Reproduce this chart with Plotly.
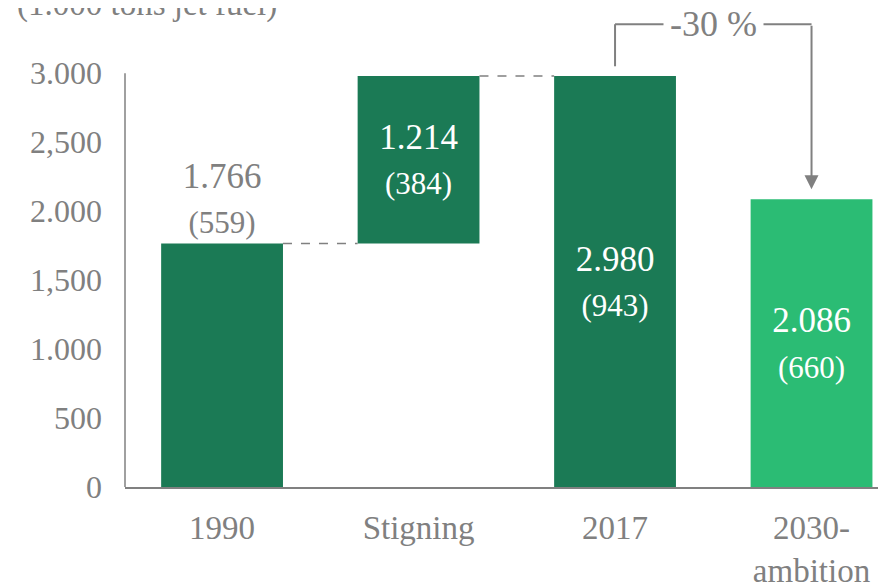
import plotly.graph_objects as go

# ---- data ----
categories = ["1990", "Stigning", "2017", "2030-<br>ambition"]
bar_values = [1766, 1214, 2980, 2086]
bar_bases = [0, 1766, 0, 0]
sub_values = [559, 384, 943, 660]
label_main = ["1.766", "1.214", "2.980", "2.086"]
label_sub = ["(559)", "(384)", "(943)", "(660)"]
y_tickvals = [0, 500, 1000, 1500, 2000, 2500, 3000]
y_ticktext = ["0", "500", "1.000", "1,500", "2.000", "2,500", "3.000"]
change_label = "-30 %"
unit_label = "(1.000 tons jet fuel)"

DARK = "#1b7a55"
LIGHT = "#2bbc74"
GRAY = "#808080"
FONT = "Liberation Serif"
colors = [DARK, DARK, DARK, LIGHT]
positions = ["outside", "inside", "inside", "inside"]
BAR_W = 0.62

texts = [f"{m}<br><span style='font-size:31px'>{s}</span>" for m, s in zip(label_main, label_sub)]

fig = go.Figure()
fig.add_trace(go.Bar(
    x=list(range(len(categories))), y=bar_values, base=bar_bases,
    marker=dict(color=colors, line=dict(width=0)),
    width=BAR_W,
    text=texts, textposition=positions, insidetextanchor="middle",
    insidetextfont=dict(family=FONT, size=35, color="white"),
    outsidetextfont=dict(family=FONT, size=35, color=GRAY),
    constraintext="none", cliponaxis=False, hoverinfo="skip",
))

shapes = []
# dashed connectors
for i in range(len(categories) - 2):
    top = bar_bases[i] + bar_values[i]
    shapes.append(dict(type="line", xref="x", yref="y",
                       x0=i + BAR_W / 2, x1=i + 1 - BAR_W / 2, y0=top, y1=top,
                       line=dict(color=GRAY, width=1.5, dash="dash")))
# y axis line (only up to 3000)
shapes.append(dict(type="line", xref="paper", yref="y", x0=0, x1=0,
                   y0=0, y1=y_tickvals[-1], line=dict(color=GRAY, width=1.5)))
# bracket
BR_Y = 3355
shapes.append(dict(type="line", xref="x", yref="y", x0=2, x1=2,
                   y0=bar_values[2] + 70, y1=BR_Y, line=dict(color=GRAY, width=2)))
shapes.append(dict(type="line", xref="x", yref="y", x0=2, x1=3,
                   y0=BR_Y, y1=BR_Y, line=dict(color=GRAY, width=2)))

annotations = [
    dict(x=3, y=bar_values[3] + 73, xref="x", yref="y", ax=3, ay=BR_Y,
         axref="x", ayref="y", showarrow=True, arrowhead=2, arrowsize=1.4,
         arrowwidth=2, arrowcolor=GRAY, text=""),
    dict(x=2.5, y=BR_Y, xref="x", yref="y", text=change_label, showarrow=False,
         bgcolor="white", borderpad=6, yanchor="middle",
         font=dict(family=FONT, size=36, color=GRAY)),
    dict(x=-0.145, y=1.0, xref="paper", yref="paper", text=unit_label,
         showarrow=False, xanchor="left", yanchor="middle", yshift=14,
         font=dict(family=FONT, size=33, color=GRAY)),
]

fig.update_layout(
    width=878, height=580,
    margin=dict(l=117, r=0, t=10, b=101),
    paper_bgcolor="white", plot_bgcolor="white",
    showlegend=False, shapes=shapes, annotations=annotations,
    xaxis=dict(range=[-0.494, 3.379], tickmode="array",
               tickvals=list(range(len(categories))), ticktext=categories,
               showline=True, linecolor=GRAY, linewidth=1.5, showgrid=False,
               ticks="", zeroline=False, ticklabelstandoff=11,
               tickfont=dict(family=FONT, size=33, color=GRAY)),
    yaxis=dict(range=[0, 3400], tickmode="array", tickvals=y_tickvals,
               ticktext=y_ticktext, showline=False, showgrid=False,
               zeroline=False, ticks="", ticklabelstandoff=22,
               tickfont=dict(family=FONT, size=32, color=GRAY)),
)

fig.write_html("out.html")
